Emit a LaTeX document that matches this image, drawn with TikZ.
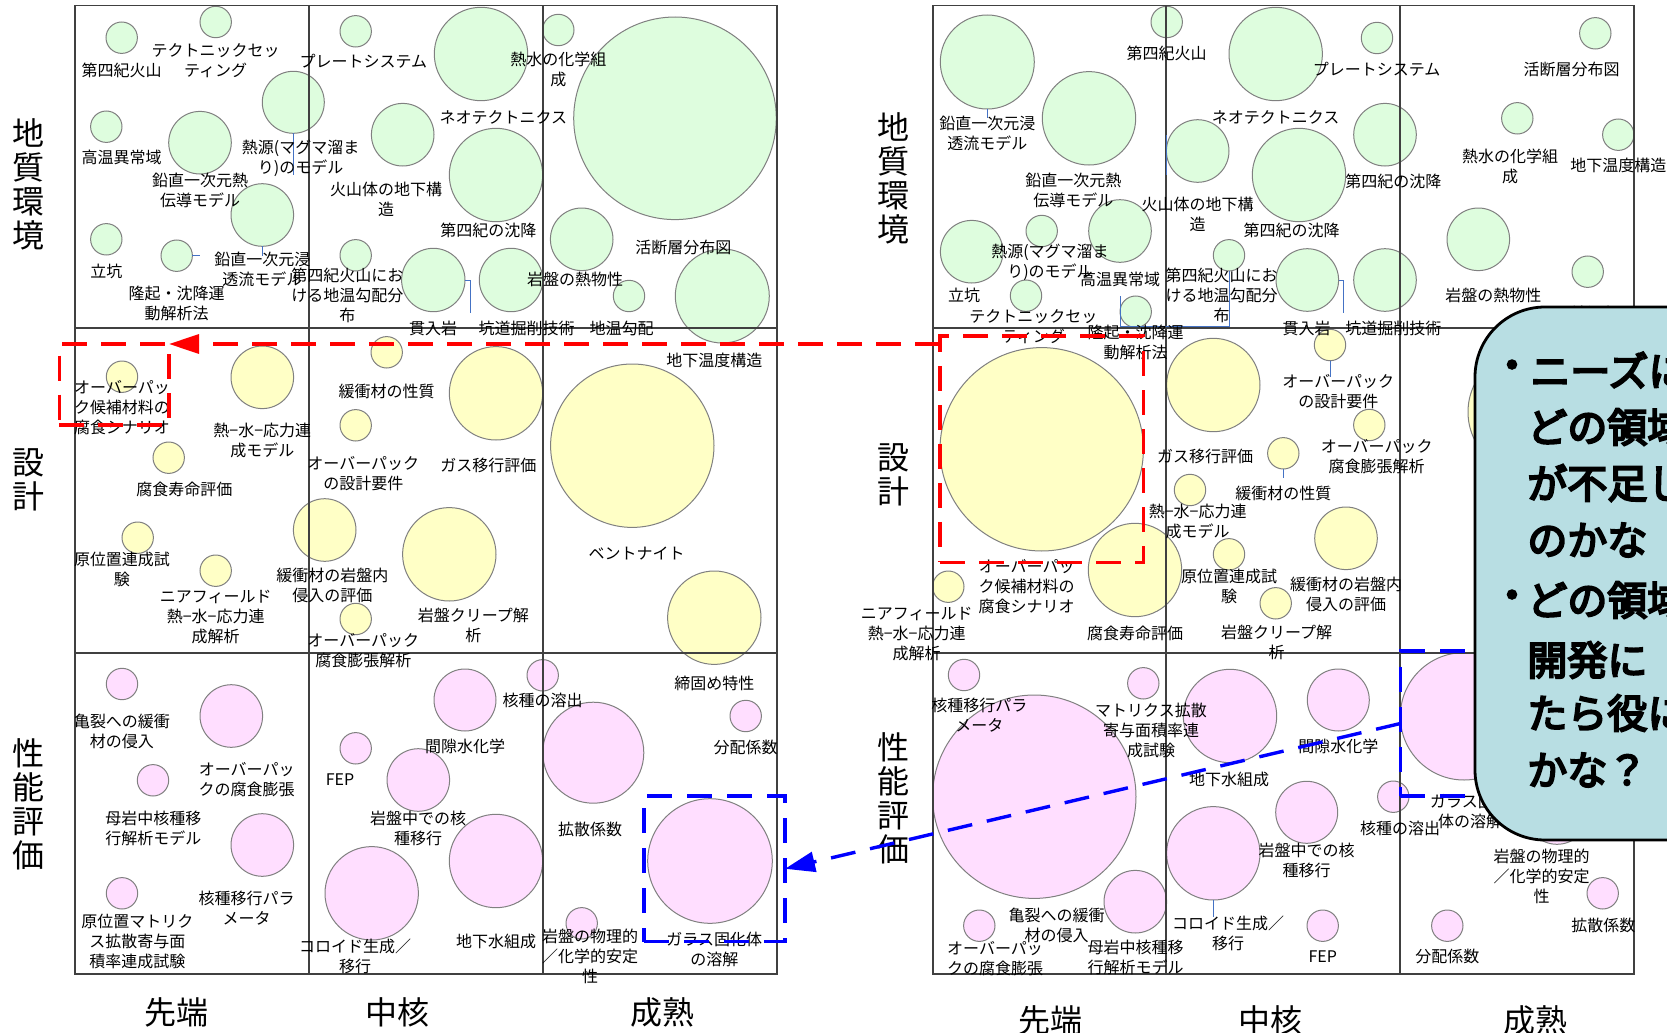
\documentclass[tikz,border=0pt]{standalone}
\usepackage{fontspec}
\setmainfont{Noto Sans CJK JP}
\newfontfamily\cjkb[FakeBold=5]{Noto Sans CJK JP}
\usetikzlibrary{arrows.meta}
\definecolor{gfill}{RGB}{222,253,222}
\definecolor{yfill}{RGB}{255,255,198}
\definecolor{pfill}{RGB}{255,222,255}
\definecolor{leadblue}{RGB}{68,114,196}
\definecolor{callfill}{RGB}{184,222,227}
\newcommand\lblfont{\fontsize{8}{10}\selectfont}
\newcommand\axfont{\fontsize{16}{17}\selectfont}
\newcommand\calfont{\cjkb\fontsize{20}{24}\selectfont}
\newcommand\mybub[5]{\node[bubble,fill=#5,minimum size=#4pt] (#1) at (#2,#3) {};}
\newcommand\mylab[4]{\node[lab] (#1) at (#2,#3) {#4};}
\tikzset{
 bubble/.style={circle,draw=black!50,line width=0.5pt,inner sep=0pt,outer sep=0pt},
 lab/.style={font=\lblfont,align=center,inner sep=0pt},
 axis/.style={font=\axfont,align=center,inner sep=0pt},
 gridln/.style={draw=black!75,line width=0.65pt},
 leader/.style={draw=leadblue,line width=0.5pt},
 redbox/.style={draw=red,line width=1.7pt,dash pattern=on 12.5pt off 7pt,inner sep=0pt,outer sep=0pt},
 bluebox/.style={draw=blue,line width=1.7pt,dash pattern=on 12.5pt off 7.5pt,inner sep=0pt,outer sep=0pt},
 redline/.style={draw=red,line width=1.7pt,dash pattern=on 12.5pt off 7pt,-{Triangle[length=15pt,width=9.5pt]}},
 blueline/.style={draw=blue,line width=1.7pt,dash pattern=on 12.5pt off 7.5pt,-{Triangle[length=15pt,width=10pt]}},
 callout/.style={draw=black,line width=1.4pt,fill=callfill,rounded corners=35pt},
 ctext/.style={font=\calfont,inner sep=0pt,anchor=west},
 cbul/.style={font=\calfont,inner sep=0pt},
}
\begin{document}
\begin{tikzpicture}[x=0.5pt,y=-0.5pt]
\useasboundingbox (0,0) rectangle (1667,1033);
\clip (0,0) rectangle (1667,1033);
\fill[white] (0,0) rectangle (1667,1033);
% ---------------- LEFT GRID: bubbles ----------------
\mybub{a1}{121.7}{37.7}{15.7}{gfill}
\mybub{a2}{215.7}{22}{15.7}{gfill}
\mybub{a3}{293.3}{102.3}{31}{gfill}
\mybub{a4}{106.3}{126.7}{15.7}{gfill}
\mybub{a5}{200}{142.7}{31.3}{gfill}
\mybub{a6}{262.3}{215}{31.3}{gfill}
\mybub{a7}{106.3}{239.3}{15.7}{gfill}
\mybub{a8}{176.7}{255.7}{15.7}{gfill}
\mybub{a9}{355.7}{31.3}{15.7}{gfill}
\mybub{a10}{402.7}{134.7}{31.3}{gfill}
\mybub{a11}{355.7}{255.3}{15.7}{gfill}
\mybub{a12}{433.3}{280}{31.7}{gfill}
\mybub{a13}{481}{54}{46.7}{gfill}
\mybub{a14}{496}{175}{46.7}{gfill}
\mybub{a15}{511}{280}{31.7}{gfill}
\mybub{a16}{558.3}{30}{15.7}{gfill}
\mybub{a17}{675}{118.3}{101.3}{gfill}
\mybub{a18}{581.7}{239.3}{31.3}{gfill}
\mybub{a19}{629}{296}{15.7}{gfill}
\mybub{a20}{722.3}{296}{47}{gfill}
\mybub{b1}{122}{376.7}{15.7}{yfill}
\mybub{b2}{262.3}{377.3}{31.3}{yfill}
\mybub{b3}{386.7}{352.3}{15.7}{yfill}
\mybub{b4}{355.7}{425.3}{15.7}{yfill}
\mybub{b5}{168.7}{457.7}{15.7}{yfill}
\mybub{b6}{137.7}{537.7}{15.7}{yfill}
\mybub{b7}{215.7}{570.7}{15.7}{yfill}
\mybub{b8}{324.7}{530}{31.3}{yfill}
\mybub{b9}{355.7}{619}{15.7}{yfill}
\mybub{b10}{496}{393.3}{46.7}{yfill}
\mybub{b11}{632.3}{445.7}{81.7}{yfill}
\mybub{b12}{449.3}{554.3}{46.7}{yfill}
\mybub{b13}{714.3}{617.7}{46.7}{yfill}
\mybub{c1}{122}{684}{15.7}{pfill}
\mybub{c2}{231.3}{716}{31.3}{pfill}
\mybub{c3}{153}{780.3}{15.7}{pfill}
\mybub{c4}{262.3}{845}{31.3}{pfill}
\mybub{c5}{122}{893.3}{15.7}{pfill}
\mybub{c6}{355.7}{748.3}{15.7}{pfill}
\mybub{c7}{418.3}{780}{31.3}{pfill}
\mybub{c8}{371.7}{893.3}{46.7}{pfill}
\mybub{c9}{465}{700}{31}{pfill}
\mybub{c10}{542.7}{675.3}{15.7}{pfill}
\mybub{c11}{496}{861}{46.7}{pfill}
\mybub{c12}{593.3}{752.7}{50.5}{pfill}
\mybub{c13}{745.7}{716}{15.7}{pfill}
\mybub{c14}{581.7}{923.3}{15.7}{pfill}
\mybub{c15}{710}{861}{62.3}{pfill}
% ---------------- RIGHT GRID: bubbles ----------------
\mybub{d1}{987.3}{62}{47}{gfill}
\mybub{d2}{1166.7}{22}{15.7}{gfill}
\mybub{d3}{1089}{118.3}{46.7}{gfill}
\mybub{d4}{1197.7}{151}{31.3}{gfill}
\mybub{d5}{1041.7}{231}{15.7}{gfill}
\mybub{d6}{1120}{231}{31.3}{gfill}
\mybub{d7}{971.7}{251.7}{31.3}{gfill}
\mybub{d8}{1026}{295.7}{15.7}{gfill}
\mybub{d9}{1135.7}{311.7}{15.7}{gfill}
\mybub{d10}{1229}{255.3}{15.7}{gfill}
\mybub{d11}{1275.7}{54}{46.7}{gfill}
\mybub{d12}{1377}{38}{15.7}{gfill}
\mybub{d13}{1385}{134.7}{31.3}{gfill}
\mybub{d14}{1299}{175}{46.7}{gfill}
\mybub{d15}{1307.3}{280}{31.3}{gfill}
\mybub{d16}{1385}{280}{31.3}{gfill}
\mybub{d17}{1595.3}{33.3}{15.7}{gfill}
\mybub{d18}{1517.3}{118.3}{15.7}{gfill}
\mybub{d19}{1618.3}{134.7}{15.7}{gfill}
\mybub{d20}{1478.3}{239.3}{31.3}{gfill}
\mybub{d21}{1587.7}{271.7}{15.7}{gfill}
\mybub{e1}{1041.7}{449.3}{101.7}{yfill}
\mybub{e2}{1213.3}{385}{46.7}{yfill}
\mybub{e3}{1190}{490}{15.7}{yfill}
\mybub{e4}{1135}{570}{46.7}{yfill}
\mybub{e5}{1229}{554.3}{15.7}{yfill}
\mybub{e6}{948.3}{586.7}{15.7}{yfill}
\mybub{e7}{1330}{345}{15.7}{yfill}
\mybub{e8}{1369.3}{425}{15.7}{yfill}
\mybub{e9}{1283.3}{453.3}{15.7}{yfill}
\mybub{e10}{1346}{538.3}{31.3}{yfill}
\mybub{e11}{1275.7}{603.3}{15.7}{yfill}
\mybub{e12}{1530}{412}{62}{yfill}
\mybub{f1}{964}{675}{15.7}{pfill}
\mybub{f2}{1034.3}{796.7}{101.7}{pfill}
\mybub{f3}{1143.3}{683.3}{15.7}{pfill}
\mybub{f4}{1230}{716}{46.7}{pfill}
\mybub{f5}{1213.3}{853.3}{46.7}{pfill}
\mybub{f6}{1135.3}{901.7}{31.3}{pfill}
\mybub{f7}{979.3}{925.7}{15.7}{pfill}
\mybub{f8}{1338.3}{700}{31}{pfill}
\mybub{f9}{1306.7}{812.3}{31}{pfill}
\mybub{f10}{1393.3}{796.7}{15.7}{pfill}
\mybub{f11}{1322.7}{925.7}{15.7}{pfill}
\mybub{f12}{1447.3}{925.7}{15.7}{pfill}
\mybub{f13}{1602.7}{893.3}{15.7}{pfill}
\mybub{f14}{1464}{716.3}{63.7}{pfill}
\mybub{f15}{1557}{813}{31.3}{pfill}
% ---------------- grids ----------------
\draw[gridln] (75,5.5) rectangle (777,974);
\draw[gridln] (309,5.5) -- (309,974) (543,5.5) -- (543,974) (75,328) -- (777,328) (75,653) -- (777,653);
\draw[gridln] (933,5.5) rectangle (1634,974);
\draw[gridln] (1166,5.5) -- (1166,974) (1400,5.5) -- (1400,974) (933,328) -- (1634,328) (933,653) -- (1634,653);
% ---------------- leader lines ----------------
\draw[leader] (a3.south) -- ++(0,41.7);
\draw[leader] (a6.south) -- ++(0,9.4);
\draw[leader] (a8.east) -- ++(7.6,0);
\draw[leader] (a12.east) -- ++(5.7,0) -- ++(0,33.3);
\draw[leader] (d1.south) -- ++(0,9);
\draw[leader] (d4.west) ++(0,-16) -- ++(0,40);
\draw[leader] (d10.south) -- ++(0,55) -- ++(-109,0) -- ++(0,-30.3);
\draw[leader] (d15.east) -- ++(5,0) -- ++(0,33.3);
\draw[leader] (e7.south) -- ++(0,16);
\draw[leader] (e9.south) -- ++(0,9);
\draw[leader] (f5.south) -- ++(0,16.7);
% ---------------- LEFT labels ----------------
\mylab{la1}{121.7}{70}{第四紀火山}
\mylab{la2}{215.7}{61}{テクトニックセッ\\ティング}
\mylab{la3}{121.7}{157.7}{高温異常域}
\mylab{la4}{300.7}{158}{熱源(マグマ溜ま\\り)のモデル}
\mylab{la5}{200}{190}{鉛直一次元熱\\伝導モデル}
\mylab{la6}{386}{199}{火山体の地下構\\造}
\mylab{la7}{106.3}{271.7}{立坑}
\mylab{la8}{262.3}{269.3}{鉛直一次元浸\\透流モデル}
\mylab{la9}{176.7}{303}{隆起・沈降運\\動解析法}
\mylab{la10}{363.3}{61}{プレートシステム}
\mylab{la11}{347.3}{295.5}{第四紀火山にお\\ける地温勾配分\\布}
\mylab{la12}{433}{328}{貫入岩}
\mylab{la13}{503.3}{117.3}{ネオテクトニクス}
\mylab{la14}{488.3}{230}{第四紀の沈降}
\mylab{la15}{526.7}{328.3}{坑道掘削技術}
\mylab{la16}{558.3}{69.7}{熱水の化学組\\成}
\mylab{la17}{683.3}{247.3}{活断層分布図}
\mylab{la18}{575}{279.3}{岩盤の熱物性}
\mylab{la19}{621.7}{328.3}{地温勾配}
\mylab{la20}{714.3}{360}{地下温度構造}
\mylab{lb1}{122}{407.8}{オーバーパッ\\ク候補材料の\\腐食シナリオ}
\mylab{lb2}{262.3}{440}{熱−水−応力連\\成モデル}
\mylab{lb3}{386.7}{391.7}{緩衝材の性質}
\mylab{lb4}{363.3}{473.3}{オーバーパック\\の設計要件}
\mylab{lb5}{184.3}{489}{腐食寿命評価}
\mylab{lb6}{122}{569.7}{原位置連成試\\験}
\mylab{lb7}{215.7}{617}{ニアフィールド\\熱−水−応力連\\成解析}
\mylab{lb8}{332.3}{585.8}{緩衝材の岩盤内\\侵入の評価}
\mylab{lb9}{363.3}{650.8}{オーバーパック\\腐食膨張解析}
\mylab{lb10}{488.3}{465}{ガス移行評価}
\mylab{lb11}{636.7}{553.3}{ベントナイト}
\mylab{lb12}{473.3}{625.3}{岩盤クリープ解\\析}
\mylab{lb13}{714.3}{683.3}{締固め特性}
\mylab{lc1}{122}{731}{亀裂への緩衝\\材の侵入}
\mylab{lc2}{246.7}{780}{オーバーパッ\\クの腐食膨張}
\mylab{lc3}{153.3}{828.7}{母岩中核種移\\行解析モデル}
\mylab{lc4}{246.7}{908.3}{核種移行パラ\\メータ}
\mylab{lc5}{137.3}{941.5}{原位置マトリク\\ス拡散寄与面\\積率連成試験}
\mylab{lc6}{340}{780}{FEP}
\mylab{lc7}{418}{828.7}{岩盤中での核\\種移行}
\mylab{lc8}{355}{956.3}{コロイド生成／\\移行}
\mylab{lc9}{465}{746.7}{間隙水化学}
\mylab{lc10}{542.7}{700}{核種の溶出}
\mylab{lc11}{496}{941}{地下水組成}
\mylab{lc12}{590}{829}{拡散係数}
\mylab{lc13}{745.7}{747.3}{分配係数}
\mylab{lc14}{590}{956}{岩盤の物理的\\／化学的安定\\性}
\mylab{lc15}{714.3}{949.5}{ガラス固化体\\の溶解}
% ---------------- RIGHT labels ----------------
\mylab{ra1}{1166.7}{53.3}{第四紀火山}
\mylab{ra2}{987.3}{133.7}{鉛直一次元浸\\透流モデル}
\mylab{ra3}{1073.3}{190}{鉛直一次元熱\\伝導モデル}
\mylab{ra4}{1197.7}{214.8}{火山体の地下構\\造}
\mylab{ra5}{1050}{262.7}{熱源(マグマ溜ま\\り)のモデル}
\mylab{ra6}{1120}{279.3}{高温異常域}
\mylab{ra7}{964}{295}{立坑}
\mylab{ra8}{1221.7}{295.3}{第四紀火山にお\\ける地温勾配分\\布}
\mylab{ra9}{1033.3}{326.7}{テクトニックセッ\\ティング}
\mylab{ra10}{1135.7}{342.5}{隆起・沈降運\\動解析法}
\mylab{ra11}{1376.7}{69}{プレートシステム}
\mylab{ra12}{1275.7}{117.3}{ネオテクトニクス}
\mylab{ra13}{1393.3}{181.7}{第四紀の沈降}
\mylab{ra14}{1291.7}{230}{第四紀の沈降}
\mylab{ra15}{1306.7}{328.3}{貫入岩}
\mylab{ra16}{1393.3}{328.3}{坑道掘削技術}
\mylab{ra17}{1571.7}{69.3}{活断層分布図}
\mylab{ra18}{1510}{166}{熱水の化学組\\成}
\mylab{ra19}{1618.3}{165.7}{地下温度構造}
\mylab{ra20}{1493.3}{295}{岩盤の熱物性}
\mylab{ra21}{1603}{313}{地温勾配}
\mylab{rb1}{1205}{456.7}{ガス移行評価}
\mylab{rb2}{1197.7}{521.7}{熱−水−応力連\\成モデル}
\mylab{rb3}{1229}{586}{原位置連成試\\験}
\mylab{rb4}{1026.7}{586.5}{オーバーパッ\\ク候補材料の\\腐食シナリオ}
\mylab{rb5}{916.7}{634}{ニアフィールド\\熱−水−応力連\\成解析}
\mylab{rb6}{1135}{633.3}{腐食寿命評価}
\mylab{rb7}{1276.7}{642.5}{岩盤クリープ解\\析}
\mylab{rb8}{1338.3}{391.7}{オーバーパック\\の設計要件}
\mylab{rb9}{1376.7}{456.7}{オーバーパック\\腐食膨張解析}
\mylab{rb10}{1283.3}{493.3}{緩衝材の性質}
\mylab{rb11}{1346}{594.5}{緩衝材の岩盤内\\侵入の評価}
\mylab{rc1}{979.3}{715}{核種移行パラ\\メータ}
\mylab{rc2}{1151}{730.7}{マトリクス拡散\\寄与面積率連\\成試験}
\mylab{rc3}{1229}{779.3}{地下水組成}
\mylab{rc4}{1056.7}{925}{亀裂への緩衝\\材の侵入}
\mylab{rc5}{995}{958.3}{オーバーパッ\\クの腐食膨張}
\mylab{rc6}{1135.7}{957}{母岩中核種移\\行解析モデル}
\mylab{rc7}{1228}{933.3}{コロイド生成／\\移行}
\mylab{rc8}{1338.3}{746.7}{間隙水化学}
\mylab{rc9}{1306.7}{860}{岩盤中での核\\種移行}
\mylab{rc10}{1400}{828.3}{核種の溶出}
\mylab{rc11}{1470}{811.7}{ガラス固化\\体の溶解}
\mylab{rc12}{1541.7}{876.3}{岩盤の物理的\\／化学的安定\\性}
\mylab{rc13}{1603.3}{925}{拡散係数}
\mylab{rc14}{1322.7}{956.7}{FEP}
\mylab{rc15}{1447.3}{956.7}{分配係数}
% ---------------- axis labels ----------------
\node[axis] (ly1) at (28.7,184) {地\\質\\環\\境};
\node[axis] (ly2) at (28.7,480) {設\\計};
\node[axis] (ly3) at (28.7,804) {性\\能\\評\\価};
\node[axis] (lx1) at (176,1012) {先端};
\node[axis] (lx2) at (397,1012) {中核};
\node[axis] (lx3) at (662,1012) {成熟};
\node[axis] (ry1) at (893,178) {地\\質\\環\\境};
\node[axis] (ry2) at (893,475) {設\\計};
\node[axis] (ry3) at (893,798) {性\\能\\評\\価};
\node[axis] (rx1) at (1050,1020) {先端};
\node[axis] (rx2) at (1270,1020) {中核};
\node[axis] (rx3) at (1535,1020) {成熟};
% ---------------- dashed highlight boxes and arrows ----------------
\node[redbox,minimum width=54.85pt,minimum height=40.5pt] (rbx1) at (114.2,384.5) {};
\node[redbox,minimum width=101.7pt,minimum height=113.2pt] (rbx2) at (1041.7,449.2) {};
\coordinate (rs) at (940,344);
\draw[redline] (rs) -- (rbx1.north east);
\node[bluebox,minimum width=70.5pt,minimum height=72.8pt] (bbx1) at (714.5,868.8) {};
\node[bluebox,minimum width=109.8pt,minimum height=72.5pt] (bbx2) at (1510.2,723.5) {};
\draw[blueline] (bbx2.west) -- (bbx1.east);
% ---------------- callout ----------------
\draw[callout] (1475,307) rectangle (1900,840);
\node[cbul] (cb1) at (1512,370) {・};
\node[ctext] (ct1) at (1530,370) {ニーズに};
\node[ctext] (ct2) at (1527,427) {どの領域};
\node[ctext] (ct3) at (1527,483) {が不足し};
\node[ctext] (ct4) at (1527,540) {のかな};
\node[cbul] (cb2) at (1512,600) {・};
\node[ctext] (ct5) at (1527,600) {どの領域};
\node[ctext] (ct6) at (1527,660) {開発に};
\node[ctext] (ct7) at (1527,713) {たら役に};
\node[ctext] (ct8) at (1527,770) {かな？};
\end{tikzpicture}
\end{document}
